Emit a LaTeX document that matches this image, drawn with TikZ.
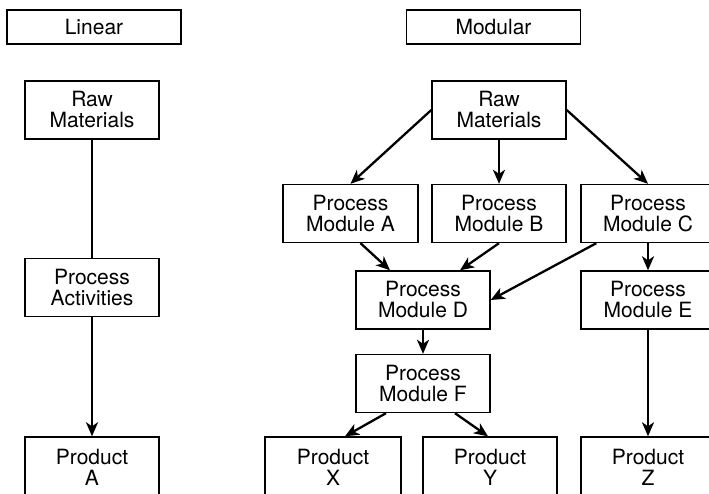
\documentclass[tikz,border=0pt]{standalone}
\usepackage{fontspec}
\setmainfont{TeX Gyre Heros}
\usetikzlibrary{arrows.meta,calc}
\begin{document}
\begin{tikzpicture}[x=1pt,y=-1pt,
  box/.style={draw,line width=1.4pt,rectangle,inner sep=0pt,align=center,
    font=\fontsize{21pt}{21pt}\selectfont,minimum width=134pt,minimum height=58pt},
  title/.style={draw,line width=1.4pt,rectangle,inner sep=0pt,align=center,
    font=\fontsize{21pt}{21pt}\selectfont,minimum width=174pt,minimum height=34pt},
  arr/.style={line width=2.3pt,-{Stealth[length=14pt,width=12pt,inset=4pt]}},
  ln/.style={line width=2.3pt}]
\useasboundingbox (0,0) rectangle (709,494);
\clip (0,0) rectangle (709,494);
% titles
\node[title] (tl) at (94,27) {Linear};
\node[title] (tm) at (493.5,27) {Modular};
% linear
\node[box] (lr) at (92,110) {Raw\\Materials};
\node[box] (la) at (92,287.5) {Process\\Activities};
\node[box,minimum height=60pt] (lp) at (92,467) {Product\\A};
\draw[ln] (lr.south) -- (la.north);
\draw[arr] (la.south) -- (lp.north);
% modular
\node[box] (mr) at (499,110) {Raw\\Materials};
\node[box,minimum width=135pt] (ma) at (350.5,213.5) {Process\\Module A};
\node[box] (mb) at (499,213.5) {Process\\Module B};
\node[box] (mc) at (648,213.5) {Process\\Module C};
\node[box] (md) at (423,300) {Process\\Module D};
\node[box] (me) at (648,300) {Process\\Module E};
\node[box] (mf) at (423,383.5) {Process\\Module F};
\node[box,minimum width=136pt,minimum height=60pt] (px) at (333,467) {Product\\X};
\node[box,minimum height=60pt] (py) at (490,467) {Product\\Y};
\node[box,minimum height=60pt] (pz) at (648,467) {Product\\Z};
\draw[arr] (mr.west) -- (ma.north);
\draw[arr] (mr.south) -- (mb.north);
\draw[arr] (mr.east) -- (mc.north);
\draw[arr] ($(ma.south)+(10,0)$) -- ($(md.north)+(-33,0)$);
\draw[arr] (mb.south) -- ($(md.north)+(37,0)$);
\draw[arr] ($(mc.south west)+(16,0)$) -- (md.east);
\draw[arr] (mc.south) -- (me.north);
\draw[arr] (md.south) -- (mf.north);
\draw[arr] ($(mf.south)+(-37,0)$) -- ($(px.north)+(12,0)$);
\draw[arr] ($(mf.south)+(32,0)$) -- ($(py.north)+(-2,0)$);
\draw[arr] (me.south) -- (pz.north);
\end{tikzpicture}
\end{document}
